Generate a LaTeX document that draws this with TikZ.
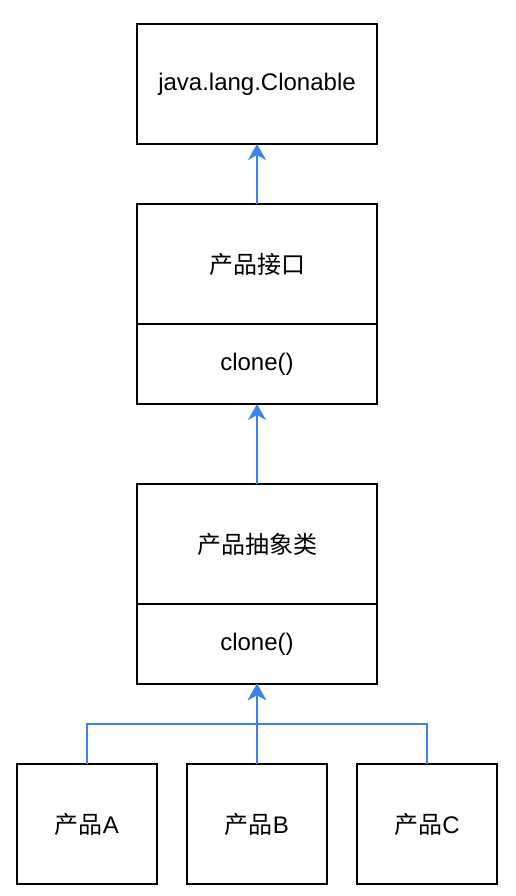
\documentclass[tikz,border=0pt]{standalone}
\usepackage{fontspec}
\setmainfont{Liberation Sans}
\newfontfamily\cjkfont{Noto Sans CJK SC}
\usetikzlibrary{arrows.meta,positioning}
\definecolor{linkblue}{RGB}{56,132,235}

\begin{document}
\begin{tikzpicture}[x=1pt, y=1pt, font=\fontsize{24}{28}\selectfont, node distance=60pt]
\tikzset{
  cls/.style ={draw, line width=2pt, minimum width=240pt, minimum height=120pt,
               inner sep=0pt, outer sep=0pt},
  meth/.style={cls, minimum height=80pt},
  prod/.style={cls, minimum width=140pt},
  inh/.style ={-{Stealth[length=16pt,width=18pt,inset=5pt]}, line width=2pt, draw=linkblue}
}
\useasboundingbox (0,0) rectangle (516,-896);
\node (clon)[cls] at (257,-84) {java.lang.Clonable};
\node (ifh)[cls,below=of clon]{\cjkfont 产品接口};
\node (ifm)[meth,below=0pt of ifh]{clone()};
\node (abh)[cls,below=80pt of ifm]{\cjkfont 产品抽象类};
\node (abm)[meth,below=0pt of abh]{clone()};
\node (pb)[prod,below=80pt of abm]{{\cjkfont 产品}B};
\node (pa)[prod,left=30pt of pb]{{\cjkfont 产品}A};
\node (pc)[prod,right=30pt of pb]{{\cjkfont 产品}C};
\draw[inh](ifh.north)--(clon.south);
\draw[inh](abh.north)--(ifm.south);
\draw[inh](pb.north)--(abm.south);
\draw[inh](pa.north)--++(0,40)-|(abm.south);
\draw[inh](pc.north)--++(0,40)-|(abm.south);
\end{tikzpicture}
\end{document}
